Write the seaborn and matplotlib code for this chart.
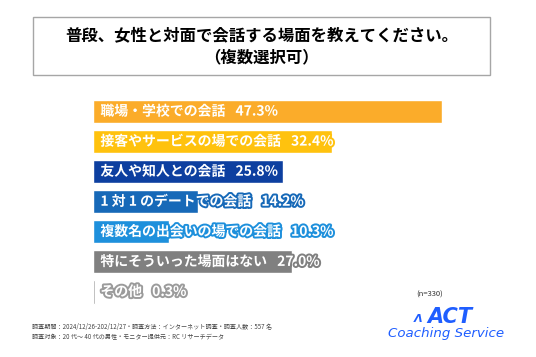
import matplotlib
matplotlib.use("Agg")
import matplotlib.pyplot as plt
import matplotlib.patheffects as pe
from matplotlib.patches import Rectangle
import seaborn as sns
import pandas as pd

# ── data ──────────────────────────────────────────────
categories = ["職場・学校での会話", "接客やサービスの場での会話", "友人や知人との会話",
              "1 対 1 のデートでの会話", "複数名の出会いの場での会話",
              "特にそういった場面はない", "その他"]
values = [47.3, 32.4, 25.8, 14.2, 10.3, 27.0, 0.3]
colors = ["#FBAC2A", "#FFC20E", "#0D3FA0", "#1769B8", "#1E90DC", "#808080", "#9B9B9B"]

title_lines = ["普段、女性と対面で会話する場面を教えてください。", "（複数選択可）"]
note_n = "(n=330)"
footer_lines = ["調査期間：2024/12/26-202/12/27・調査方法：インターネット調査・調査人数：557 名",
                "調査対象：20 代～ 40 代の男性・モニター提供元：RC リサーチデータ"]

df = pd.DataFrame({"cat": categories, "val": values})

sns.set_theme(style="white")
plt.rcParams["font.family"] = ["Noto Sans CJK JP", "DejaVu Sans"]

fig = plt.figure(figsize=(5.36, 3.57), dpi=100)

# title box
box = Rectangle((33 / 536, 1 - 75 / 357), 457 / 536, 58 / 357, transform=fig.transFigure,
                fill=False, edgecolor="#A6A6A6", linewidth=1.0)
fig.patches.append(box)
fig.text(0.488, 1 - 35 / 357, title_lines[0], ha="center", va="center",
         fontsize=11.8, fontweight="bold", color="black")
fig.text(0.488, 1 - 57 / 357, title_lines[1], ha="center", va="center",
         fontsize=11.8, fontweight="bold", color="black")

# bars
ax = fig.add_axes([93 / 536, 1 - 307 / 357, 443 / 536, 210.5 / 357])
sns.barplot(data=df, y="cat", x="val", hue="cat", palette=colors, orient="h",
            width=0.77, legend=False, ax=ax, saturation=1)
ax.set_xlim(0, 60)
ax.set_ylim(6.5, -0.5)
ax.axis("off")

for i, (c, v) in enumerate(zip(categories, values)):
    ax.text(1.0, i, f"{c}\u2002 {v:.1f}%", ha="left", va="center", fontsize=10,
            fontweight="bold", color="white",
            path_effects=[pe.withStroke(linewidth=2.8, foreground=colors[i])])

# notes / footer
fig.text(430 / 536, 1 - 295 / 357, note_n, ha="center", va="center", fontsize=5.5, color="#333333")
fig.text(32 / 536, 1 - 327 / 357, footer_lines[0], ha="left", va="center", fontsize=4.4, color="#444444")
fig.text(32 / 536, 1 - 337 / 357, footer_lines[1], ha="left", va="center", fontsize=4.4, color="#444444")

# logo
fig.text(418 / 536, 1 - 319 / 357, "Λ", ha="center", va="center", fontsize=8,
         fontweight="bold", style="italic", color="#1F5EFF", family="DejaVu Sans")
fig.text(450 / 536, 1 - 317 / 357, "ACT", ha="center", va="center", fontsize=15,
         fontweight="bold", style="italic", color="#1F5EFF", family="DejaVu Sans")
fig.text(446 / 536, 1 - 333 / 357, "Coaching Service", ha="center", va="center", fontsize=9.6,
         style="italic", color="#1F5EFF", family="DejaVu Sans")

fig.savefig("out.png", dpi=100)
